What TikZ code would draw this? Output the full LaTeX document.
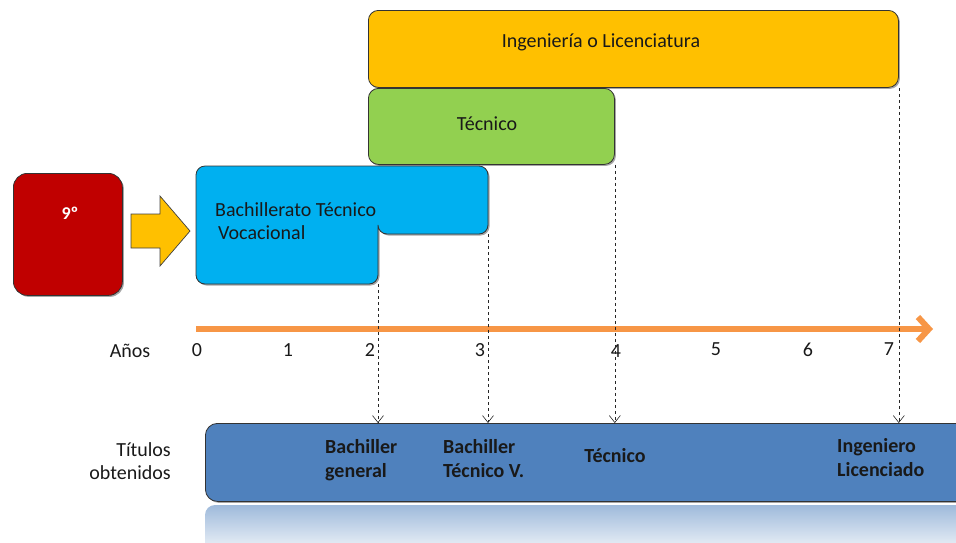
\documentclass[tikz,border=0pt]{standalone}
\usepackage{fontspec}
\setmainfont{Carlito}
\usetikzlibrary{arrows.meta,shadows}
\definecolor{cYel}{HTML}{FFC000}
\definecolor{cGreen}{HTML}{92D050}
\definecolor{cBlue}{HTML}{00B0F0}
\definecolor{cRed}{HTML}{C00000}
\definecolor{cOrange}{HTML}{F79646}
\definecolor{cBot}{HTML}{4F81BD}
\begin{document}
\begin{tikzpicture}[x=1pt,y=-1pt,
  shad/.style={drop shadow={shadow xshift=1.5pt,shadow yshift=-1.5pt,opacity=0.35,fill=black}},
  bar/.style={draw=black!80,line width=0.8pt,rounded corners=10pt,anchor=north west,inner sep=0pt,shad},
  lbl/.style={font=\fontsize{20}{24}\selectfont,inner sep=0pt,text=black!90},
  num/.style={font=\fontsize{20}{24}\selectfont,inner sep=0pt,text=black!90},
  tit/.style={font=\bfseries\fontsize{20}{24}\selectfont,inner sep=0pt,align=left,anchor=west,text=black!90},
  conn/.style={dashed,line width=0.6pt,black!85,-{Straight Barb[length=7pt,width=11pt]}}]
\useasboundingbox (0,0) rectangle (956,542);
\clip (0,0) rectangle (956,542);

% top bars
\node[bar,fill=cYel,minimum width=530pt,minimum height=77pt] (yel) at (368,10) {};
\node[lbl] (yelt) at (601,42) {Ingeniería o Licenciatura};
\node[bar,fill=cGreen,minimum width=246pt,minimum height=76pt] (grn) at (368,88) {};
\node[lbl] (grnt) at (487,124) {Técnico};

% L-shaped blue bar
\draw[fill=cBlue,draw=black!80,line width=0.8pt,rounded corners=9pt,shad]
  (196,166) -- (488,166) -- (488,234) -- (378,234) [rounded corners=3pt]-- (378,234) [rounded corners=9pt] -- (378,284) -- (196,284) -- cycle;
\coordinate (btr) at (488,234);
\coordinate (btm) at (378,284);
\node[lbl,align=left,anchor=west,font=\fontsize{20}{23}\selectfont] (btt) at (215,221) {Bachillerato Técnico\\\hspace{3pt}Vocacional};

% red box
\node[bar,fill=cRed,rounded corners=14pt,minimum width=109pt,minimum height=122pt] (red) at (13,173) {};
\node[lbl,text=white,font=\bfseries\fontsize{18}{20}\selectfont] (redt) at (70,213) {9º};

% yellow block arrow
\draw[fill=cYel,draw=black!75,line width=0.7pt]
  (131,214) -- (160,214) -- (160,196) -- (190,231) -- (160,266) -- (160,248) -- (131,248) -- cycle;

% time axis
\coordinate (ax0) at (196,329);
\coordinate (ax1) at (933,329);
\draw[cOrange,line width=6pt,-{Straight Barb[length=11pt,width=24pt]}] (ax0) -- (ax1);
\node[num] (anos) at (130,351) {Años};
\node[num] (n0) at (197,350) {0};
\node[num] (n1) at (288,350) {1};
\node[num] (n2) at (370,350) {2};
\node[num] (n3) at (480,350) {3};
\node[num] (n4) at (616,351) {4};
\node[num] (n5) at (716,349) {5};
\node[num] (n6) at (808,350) {6};
\node[num] (n7) at (889,349) {7};

% bottom bar and reflection
\shade[top color=cBot!55,bottom color=white,rounded corners=10pt] (205,505) rectangle (970,560);
\node[bar,fill=cBot,rounded corners=12pt,minimum width=780pt,minimum height=78pt] (bot) at (205,423) {};
\node[lbl,align=right,anchor=east,font=\fontsize{20}{23}\selectfont] (titl) at (171,461) {Títulos\\obtenidos};
\node[tit] (t1) at (325,460) {Bachiller\\general};
\node[tit] (t2) at (443,459) {Bachiller\\Técnico V.};
\node[tit,anchor=center] (t3) at (615,456) {Técnico};
\node[tit] (t4) at (837,458) {Ingeniero\\Licenciado};

% dashed connectors
\draw[conn] (btm) -- (btm |- bot.north);
\draw[conn] (btr) -- (btr |- bot.north);
\draw[conn] (grn.south east) -- (grn.south east |- bot.north);
\draw[conn] (yel.south east) -- (yel.south east |- bot.north);
\end{tikzpicture}
\end{document}
